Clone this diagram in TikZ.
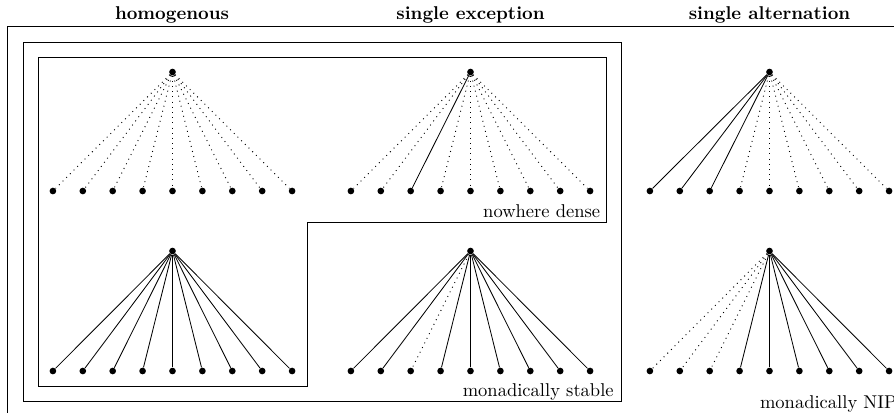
\documentclass[tikz,border=0pt]{standalone}
\begin{document}
\begin{tikzpicture}[x=0.54pt,y=-0.54pt,
  dot/.style={circle,fill=black,inner sep=0pt,minimum size=3.6pt},
  se/.style={line width=0.45pt},
  de/.style={line width=0.5pt,dash pattern=on 0.5pt off 2.3pt},
  boxline/.style={line width=0.5pt},
  head/.style={font=\bfseries,anchor=base},
  lab/.style={anchor=base east,inner sep=0pt}]
\useasboundingbox (0,0) rectangle (894,412);
\clip (0,0) rectangle (894,412);
% boxes
\draw[boxline] (7,26) rectangle (901,414);
\draw[boxline] (23,42) rectangle (621,401);
\draw[boxline] (38,57) -- (606,57) -- (606,222) -- (307,222) -- (307,386) -- (38,386) -- cycle;
% headings
\node[head] (h1) at (172,19) {homogenous};
\node[head] (h2) at (470.5,19) {single exception};
\node[head] (h3) at (769.5,19) {single alternation};
% labels
\node[lab] (l1) at (600.5,217) {nowhere dense};
\node[lab] (l2) at (614,396) {monadically stable};
\node[lab] (l3) at (897,408) {monadically NIP};
% trees: nodes
\foreach \n/\cx/\ry/\ly in {A/172.5/72/191, B/470.5/72/191, C/769.5/72/191,
                             D/172.5/251/371, E/470.5/251/371, F/769.5/251/371}{
  \node[dot] (\n r) at (\cx,\ry) {};
  \foreach \i in {1,...,9}{
    \node[dot] (\n\i) at ({\cx+29.9*(\i-5)},\ly) {};
  }
}
% tree A: all dotted
\foreach \i in {1,...,9} \draw[de] (Ar) -- (A\i);
% tree B: leaf 3 solid
\draw[se] (Br) -- (B3);
\foreach \i in {1,2,4,5,6,7,8,9} \draw[de] (Br) -- (B\i);
% tree C: leaves 1-3 solid
\foreach \i in {1,2,3} \draw[se] (Cr) -- (C\i);
\foreach \i in {4,...,9} \draw[de] (Cr) -- (C\i);
% tree D: all solid
\foreach \i in {1,...,9} \draw[se] (Dr) -- (D\i);
% tree E: leaf 3 dotted
\draw[de] (Er) -- (E3);
\foreach \i in {1,2,4,5,6,7,8,9} \draw[se] (Er) -- (E\i);
% tree F: leaves 1-3 dotted
\foreach \i in {1,2,3} \draw[de] (Fr) -- (F\i);
\foreach \i in {4,...,9} \draw[se] (Fr) -- (F\i);
\end{tikzpicture}
\end{document}
